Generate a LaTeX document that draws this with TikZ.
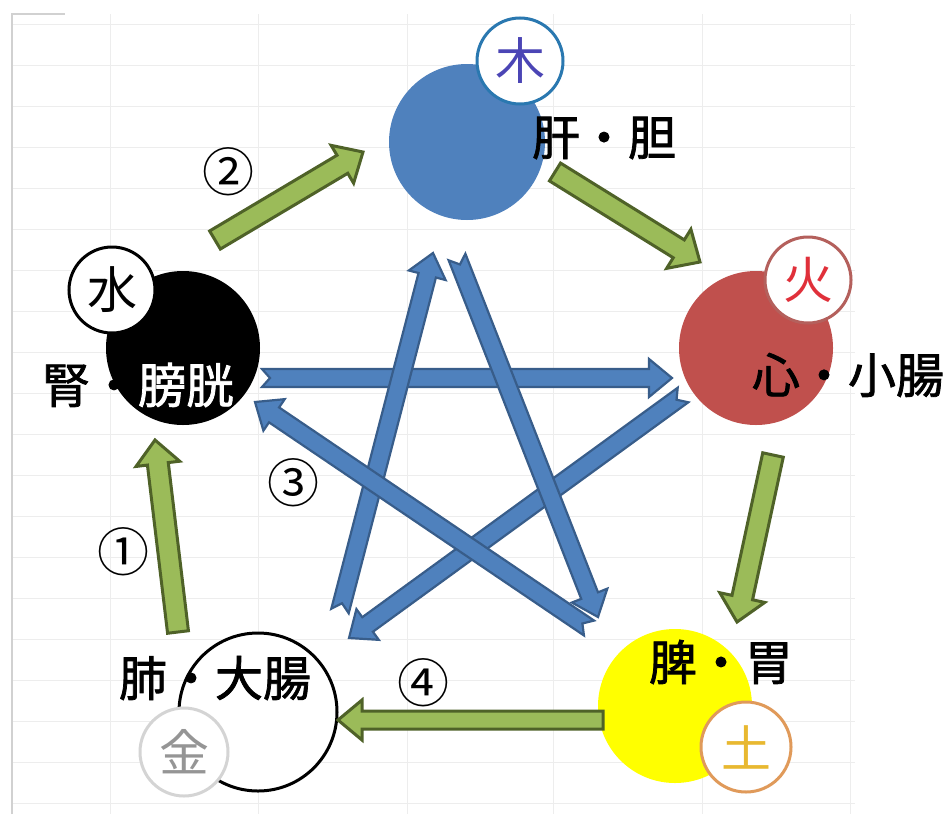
\documentclass[tikz,border=0pt]{standalone}
\usepackage{fontspec}
\newfontfamily\jp{Noto Sans CJK JP}
\newfontfamily\jpb{Noto Sans CJK JP}[FakeBold=1.6]
\usetikzlibrary{calc}
\definecolor{woodblue}{HTML}{4F81BD}
\definecolor{firered}{HTML}{C0504D}
\definecolor{earthyellow}{HTML}{FFFF00}
\definecolor{greenfill}{HTML}{9BBB59}
\definecolor{greenedge}{HTML}{4F6228}
\definecolor{blueedge}{HTML}{385D8A}
\definecolor{gridc}{HTML}{EDEDED}
\definecolor{woodring}{HTML}{2A78B0}
\definecolor{woodtext}{HTML}{4B45B5}
\definecolor{firering}{HTML}{B4605C}
\definecolor{firetext}{HTML}{E0303A}
\definecolor{earthring}{HTML}{E09A5A}
\definecolor{earthtext}{HTML}{E8B830}
\definecolor{metalring}{HTML}{D4D4D4}
\definecolor{metaltext}{HTML}{959595}
% block arrow: #1 style, #2 from, #3 to, #4 shaft half width, #5 head half width, #6 head length, #7 notch depth
\newcommand\blockarr[7]{%
  \coordinate (hb) at ($(#3)!#6!(#2)$);
  \coordinate (nt) at ($(#2)!#7!(#3)$);
  \draw[#1] ($(#2)!#4!90:(#3)$) -- ($(hb)!#4!90:(#3)$) -- ($(hb)!#5!90:(#3)$) -- (#3)
    -- ($(hb)!#5!-90:(#3)$) -- ($(hb)!#4!-90:(#3)$) -- ($(#2)!#4!-90:(#3)$) -- (nt) -- cycle;
}
\tikzset{
  bigc/.style={circle, minimum size=154pt, inner sep=0pt},
  symc/.style={circle, minimum size=86pt, inner sep=0pt, fill=white, line width=3pt, font=\jp\fontsize{50}{50}\selectfont},
  organ/.style={inner sep=0pt, font=\jpb\fontsize{48}{48}\selectfont},
  numlab/.style={inner sep=0pt, font=\jp\fontsize{52}{52}\selectfont},
  greenarr/.style={fill=greenfill, draw=greenedge, line width=3pt, line join=miter},
  bluearr/.style={fill=woodblue, draw=blueedge, line width=2.2pt, line join=miter},
  gridline/.style={draw=gridc, line width=1pt}
}
\begin{document}
\begin{tikzpicture}[x=1pt,y=-1pt]
\fill[white] (0,0) rectangle (949,814);
\useasboundingbox (0,0) rectangle (949,814);
% faint spreadsheet grid
\foreach \yy in {24,65,106,147,188,229,270,311,352,393,434,475,516,557,598,639,680,721,762,803}
  \draw[gridline] (12,\yy) -- (855,\yy);
\foreach \xx in {110,258,407,553,702,850}
  \draw[gridline] (\xx,14) -- (\xx,814);
\draw[draw=black!18, line width=1.2pt] (12,814) -- (12,14) -- (65,14);

% element circles
\node[bigc, fill=woodblue, minimum size=156pt] (wood) at (467,142) {};
\node[bigc, fill=firered] (fire) at (756,348) {};
\node[bigc, fill=black] (water) at (183,348) {};
\node[bigc, draw=black, line width=3pt, fill=white, minimum size=158pt] (metal) at (258,712) {};
\node[bigc, fill=earthyellow] (earth) at (675,706) {};

% symbol circles
\node[symc, draw=woodring, text=woodtext] (woodsym) at (520,61) {木};
\node[symc, draw=firering, text=firetext] (firesym) at (808,280) {火};
\node[symc, draw=black, text=black] (watersym) at (112,290) {水};
\node[symc, draw=metalring, text=metaltext, minimum size=88pt] (metalsym) at (184,752) {金};
\node[symc, draw=earthring, text=earthtext, minimum size=90pt] (earthsym) at (746,747) {土};

% arrow end points
\coordinate (g1a) at (178,632); \coordinate (g1b) at (155,440);
\coordinate (g2a) at (215,240); \coordinate (g2b) at (363,152);
\coordinate (g3a) at (555,172); \coordinate (g3b) at (700,262);
\coordinate (g4a) at (773,455); \coordinate (g4b) at (737,622);
\coordinate (g5a) at (603,720); \coordinate (g5b) at (338,720);
\coordinate (b1a) at (262,378); \coordinate (b1b) at (672,378);
\coordinate (b2a) at (683,395); \coordinate (b2b) at (349,638);
\coordinate (b3a) at (340,611); \coordinate (b3b) at (433,253);
\coordinate (b4a) at (457,257); \coordinate (b4b) at (598,617);
\coordinate (b5a) at (589,628); \coordinate (b5b) at (255,402);

% controlling cycle (blue star)
\blockarr{bluearr}{b1a}{b1b}{9pt}{19pt}{23pt}{8pt}
\blockarr{bluearr}{b2a}{b2b}{9pt}{19pt}{23pt}{8pt}
\blockarr{bluearr}{b3a}{b3b}{9pt}{19pt}{23pt}{8pt}
\blockarr{bluearr}{b4a}{b4b}{9pt}{19pt}{23pt}{8pt}
\blockarr{bluearr}{b5a}{b5b}{9pt}{19pt}{23pt}{8pt}

% generating cycle (green)
\blockarr{greenarr}{g1a}{g1b}{10.5pt}{22pt}{24pt}{0pt}
\blockarr{greenarr}{g2a}{g2b}{10.5pt}{22pt}{24pt}{0pt}
\blockarr{greenarr}{g3a}{g3b}{10.5pt}{23pt}{25pt}{0pt}
\blockarr{greenarr}{g4a}{g4b}{10.5pt}{23pt}{25pt}{0pt}
\blockarr{greenarr}{g5a}{g5b}{9pt}{20pt}{24pt}{0pt}

% organ labels
\node[organ] (woodlab) at (604,138) {肝・胆};
\node[organ] (firelab) at (848,375) {心・小腸};
\node[organ] (waterlab) at (138,385) {\color{black}腎・\color{white}膀胱};
\node[organ] (metallab) at (215,678) {肺・大腸};
\node[organ] (earthlab) at (721,662) {脾・胃};

% cycle numbers
\node[numlab] (n1) at (123,552) {①};
\node[numlab] (n2) at (228,172) {②};
\node[numlab] (n3) at (293,483) {③};
\node[numlab] (n4) at (423,683) {④};
\end{tikzpicture}
\end{document}
